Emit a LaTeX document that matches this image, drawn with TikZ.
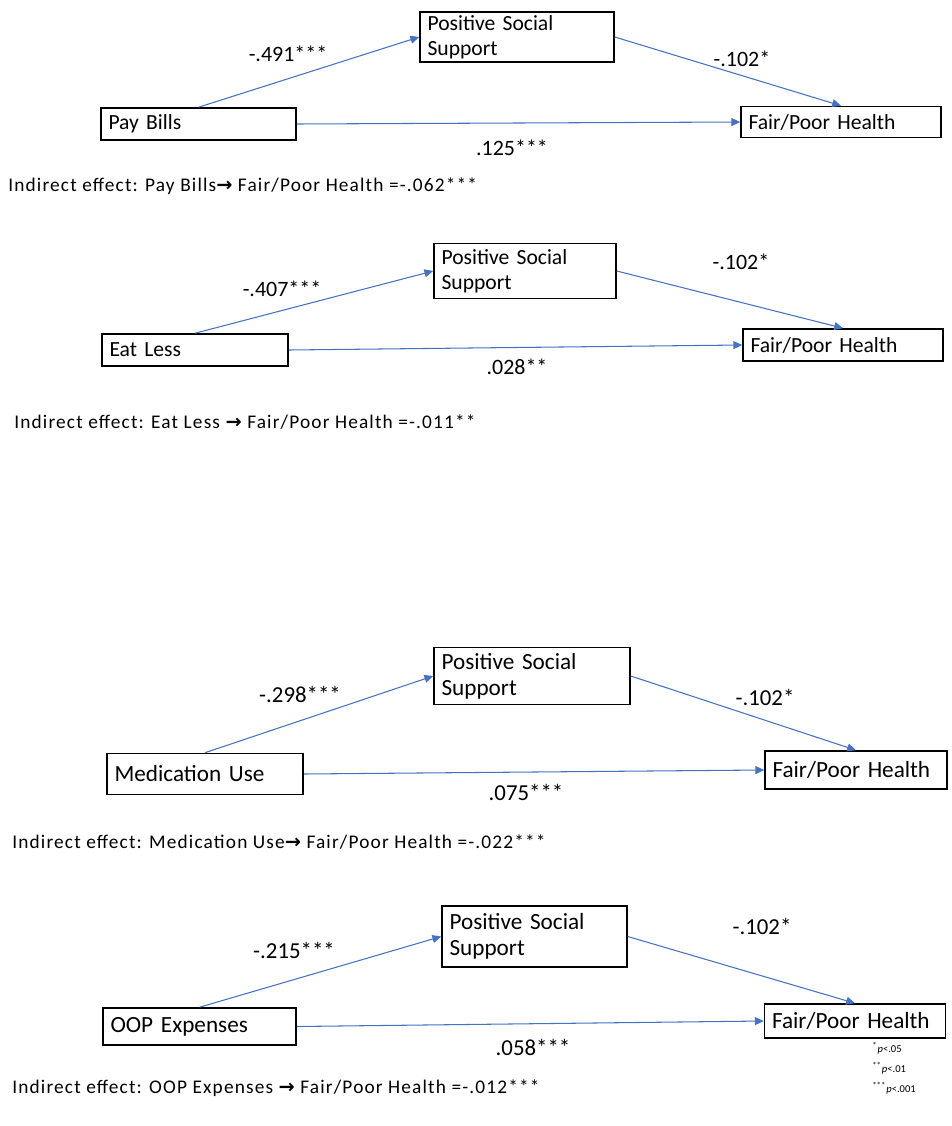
\documentclass[tikz,border=0pt]{standalone}
\usepackage{fontspec}
\setmainfont{Carlito}
\newfontfamily\arrowfont{DejaVu Sans}
\newfontfamily\effectfont[LetterSpace=6]{Carlito}
\usepackage{tikz}
\usetikzlibrary{arrows.meta, positioning}
\definecolor{linkblue}{RGB}{68,114,196}

\newcommand{\ra}{{\arrowfont\bfseries →}}

\begin{document}
\begin{tikzpicture}[x=0.02cm, y=-0.02cm,
    varbox/.style={draw, line width=0.9pt, inner xsep=0.15cm, inner ysep=2pt, align=left, font=\fontsize{12.3}{14}\selectfont},
    bigbox/.style={varbox, font=\fontsize{13.2}{15}\selectfont},
    coef/.style={font=\fontsize{12.5}{14}\selectfont},
    bigcoef/.style={font=\fontsize{13}{15}\selectfont},
    effect/.style={anchor=west, inner sep=0pt, font=\effectfont\fontsize{11}{13}\selectfont},
    signif/.style={anchor=west, inner sep=0pt, font=\fontsize{6}{7}\selectfont},
    link/.style={draw=linkblue, line width=0.6pt, -{Triangle[length=5pt,width=4.5pt]}},
]
\useasboundingbox (0,0) rectangle (951,1126);

% Pay Bills
\node[varbox, text width=3.6cm, minimum height=0.64cm]  (pay)  at (198.5,124) {Pay Bills};
\node[varbox, text width=3.58cm, minimum height=1.0cm]  (pss1) at (517,37)    {Positive Social\\Support};
\node[varbox, text width=3.7cm, minimum height=0.62cm]  (fph1) at (841,122)   {Fair/Poor Health};
\draw[link] (pay.north) -- (pss1.west);
\draw[link] (pss1.east) -- (fph1.north);
\draw[link] (pay.east) -- (fph1.west);
\node[coef] (c1a) at (288,54)  {-.491***};
\node[coef] (c1b) at (742,59)  {-.102*};
\node[coef] (c1c) at (512,148) {.125***};
\node[effect] (ind1) at (8,186) {Indirect effect: Pay Bills\ra{} Fair/Poor Health =-.062***};

% Eat Less
\node[varbox, text width=3.42cm, minimum height=0.64cm] (eat)  at (195,350) {Eat Less};
\node[varbox, text width=3.34cm, minimum height=1.1cm]  (pss2) at (525,271) {Positive Social\\Support};
\node[varbox, text width=3.7cm, minimum height=0.64cm]  (fph2) at (843,345) {Fair/Poor Health};
\draw[link] (eat.north) -- (pss2.west);
\draw[link] (pss2.east) -- (fph2.north);
\draw[link] (eat.east) -- (fph2.west);
\node[coef] (c2a) at (282,289) {-.407***};
\node[coef] (c2b) at (741,262) {-.102*};
\node[coef] (c2c) at (517,367) {.028**};
\node[effect] (ind2) at (14,422) {Indirect effect: Eat Less \ra{} Fair/Poor Health =-.011**};

% Medication Use
\node[bigbox, text width=3.62cm, minimum height=0.82cm] (med)  at (205,774) {Medication Use};
\node[bigbox, text width=3.62cm, minimum height=1.14cm] (pss3) at (532,676) {Positive Social\\Support};
\node[bigbox, text width=3.34cm, minimum height=0.76cm] (fph3) at (856,770) {Fair/Poor Health};
\draw[link] (med.north) -- (pss3.west);
\draw[link] (pss3.east) -- (fph3.north);
\draw[link] (med.east) -- (fph3.west);
\node[bigcoef] (c3a) at (300,694) {-.298***};
\node[bigcoef] (c3b) at (765,697) {-.102*};
\node[bigcoef] (c3c) at (526,792) {.075***};
\node[effect] (ind3) at (12,842) {Indirect effect: Medication Use\ra{} Fair/Poor Health =-.022***};

% OOP Expenses
\node[bigbox, text width=3.56cm, minimum height=0.74cm] (oop)  at (199.5,1026.5) {OOP Expenses};
\node[bigbox, text width=3.4cm, minimum height=1.22cm]  (pss4) at (534.5,936.5)  {Positive Social\\Support};
\node[bigbox, text width=3.32cm, minimum height=0.68cm] (fph4) at (855,1021)     {Fair/Poor Health};
\draw[link] (oop.north) -- (pss4.west);
\draw[link] (pss4.east) -- (fph4.north);
\draw[link] (oop.east) -- (fph4.west);
\node[bigcoef] (c4a) at (294,950)  {-.215***};
\node[bigcoef] (c4b) at (762,926)  {-.102*};
\node[bigcoef] (c4c) at (533,1047) {.058***};
\node[effect] (ind4) at (12,1088) {Indirect effect: OOP Expenses \ra{} Fair/Poor Health =-.012***};

% significance levels
\node[signif] (p05)  at (872,1048) {\textsuperscript{*}\textit{p}<.05};
\node[signif] (p01)  at (872,1068) {\textsuperscript{**}\textit{p}<.01};
\node[signif] (p001) at (872,1088) {\textsuperscript{***}\textit{p}<.001};
\end{tikzpicture}
\end{document}
